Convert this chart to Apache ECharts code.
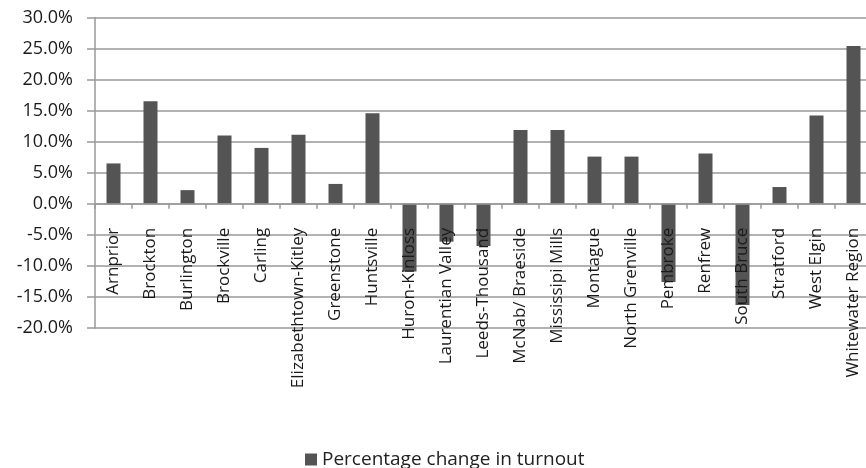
<!DOCTYPE html>
<html>
<head>
<meta charset="utf-8">
<script src="https://cdn.jsdelivr.net/npm/echarts@6/dist/echarts.min.js"></script>
<style>
  html, body { margin: 0; padding: 0; background: #fff; }
  #chart { width: 866px; height: 468px; }
</style>
</head>
<body>
<div id="chart"></div>
<script>
// Municipalities compared
const municipalities = [
  'Arnprior', 'Brockton', 'Burlington', 'Brockville', 'Carling',
  'Elizabethtown-Kitley', 'Greenstone', 'Huntsville', 'Huron-Kinloss',
  'Laurentian Valley', 'Leeds-Thousand', 'McNab/ Braeside', 'Mississipi Mills',
  'Montague', 'North Grenville', 'Pembroke', 'Renfrew', 'South Bruce',
  'Stratford', 'West Elgin', 'Whitewater Region'
];

// Percentage change in turnout (%)
const turnoutChange = [
  6.5, 16.5, 2.2, 11.0, 9.0,
  11.1, 3.2, 14.6, -10.9,
  -6.1, -6.8, 11.9, 11.9,
  7.6, 7.6, -12.6, 8.1, -16.3,
  2.7, 14.2, 25.4
];

const seriesName = 'Percentage change in turnout';

// Value axis range
const yMin = -20;
const yMax = 30;
const yStep = 5;

// Plot box
const gridTop = 17.5;
const gridHeight = 310.5;

// Shift the category axis up so it sits on the 0% line
const zeroOffset = -gridHeight * (0 - yMin) / (yMax - yMin);

const chart = echarts.init(document.getElementById('chart'), null, { renderer: 'canvas' });

const labelFont = '"Open Sans", "Liberation Sans", sans-serif';

chart.setOption({
  animation: false,
  backgroundColor: '#ffffff',
  grid: {
    left: 95,
    top: gridTop,
    width: 777,
    height: gridHeight,
    containLabel: false,
    outerBoundsMode: 'none'
  },
  legend: {
    show: true,
    top: 445,
    left: 300,
    itemWidth: 12,
    itemHeight: 12,
    itemGap: 6,
    icon: 'rect',
    textStyle: {
      fontFamily: labelFont,
      fontSize: 19,
      color: '#222'
    },
    data: [seriesName]
  },
  xAxis: {
    type: 'category',
    position: 'bottom',
    offset: zeroOffset,
    z: 5,
    data: municipalities,
    axisLine: { onZero: false, lineStyle: { color: '#999', width: 1.5 } },
    axisTick: { show: true, length: 5, alignWithLabel: false, lineStyle: { color: '#999', width: 1.5 } },
    axisLabel: {
      interval: 0,
      rotate: 90,
      margin: 24,
      fontFamily: labelFont,
      fontSize: 17,
      color: '#1a1a1a'
    },
    splitLine: { show: false }
  },
  yAxis: {
    type: 'value',
    min: yMin,
    max: yMax,
    interval: yStep,
    z: 0,
    axisLine: { show: true, lineStyle: { color: '#999', width: 1.5 } },
    axisTick: { show: true, length: 8, lineStyle: { color: '#999', width: 1.5 } },
    axisLabel: {
      margin: 22,
      fontFamily: labelFont,
      fontSize: 18,
      color: '#1a1a1a',
      formatter: v => v.toFixed(1) + '%'
    },
    splitLine: { show: true, lineStyle: { color: '#999', width: 1.5 } }
  },
  series: [{
    name: seriesName,
    type: 'bar',
    data: turnoutChange,
    barWidth: 14,
    itemStyle: { color: '#545454' },
    z: 2
  }]
});
</script>
</body>
</html>
